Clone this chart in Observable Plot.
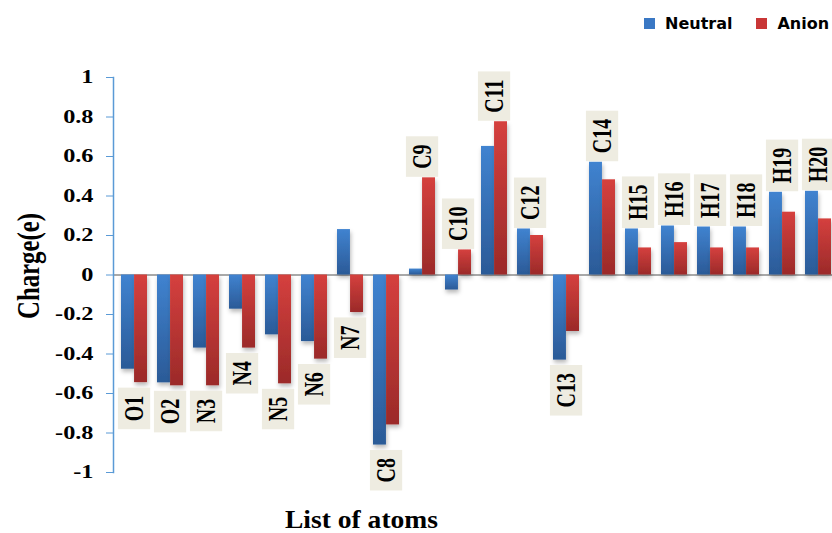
<!DOCTYPE html>
<html>
<head>
<meta charset="utf-8">
<script src="https://cdn.jsdelivr.net/npm/d3@7"></script>
<script src="https://cdn.jsdelivr.net/npm/@observablehq/plot@0.6"></script>
<style>
  body { margin: 0; background: #fff; }
  #wrap { position: relative; width: 832px; height: 533px; overflow: hidden; }
  #legend { position: absolute; top: 14px; left: 644px; display: flex; align-items: center;
            font: bold 16px "DejaVu Sans", sans-serif; color: #000; white-space: nowrap; }
  #legend .item { display: flex; align-items: center; margin-right: 24px; }
  #legend .swatch { width: 11px; height: 11px; margin-right: 10px; }
</style>
</head>
<body>
<div id="wrap">
  <div id="chart"></div>
  <div id="legend"></div>
</div>
<script>
// Atomic charges (e) of each atom, neutral molecule vs. anion
const atoms = ["O1", "O2", "N3", "N4", "N5", "N6", "N7", "C8", "C9", "C10",
               "C11", "C12", "C13", "C14", "H15", "H16", "H17", "H18", "H19", "H20"];
const neutral = [-0.477, -0.546, -0.370, -0.173, -0.303, -0.337, 0.230, -0.861, 0.030, -0.076,
                 0.651, 0.233, -0.431, 0.571, 0.233, 0.248, 0.243, 0.243, 0.419, 0.424];
const anion = [-0.545, -0.561, -0.561, -0.370, -0.551, -0.426, -0.190, -0.759, 0.492, 0.127,
               0.776, 0.200, -0.286, 0.482, 0.137, 0.164, 0.137, 0.137, 0.318, 0.284];
const seriesNames = ["Neutral", "Anion"];
const seriesColors = ["#3a78c4", "#c93636"];
const yTicks = [-1, -0.8, -0.6, -0.4, -0.2, 0, 0.2, 0.4, 0.6, 0.8, 1];
const yTitle = "Charge(e)";
const xTitle = "List of atoms";

const neutralRows = atoms.map((atom, i) => ({atom, value: neutral[i]}));
const anionRows = atoms.map((atom, i) => ({atom, value: anion[i]}));

// Each atom name sits beyond the outer end of its pair of bars
const labelRows = atoms.map((atom, i) => {
  const up = anion[i] >= 0;
  return {atom, up, value: up ? Math.max(neutral[i], anion[i]) : Math.min(neutral[i], anion[i])};
});

const svgNS = "http://www.w3.org/2000/svg";
function defs() {
  const d = document.createElementNS(svgNS, "defs");
  d.innerHTML = `
    <linearGradient id="gradNeutral" x1="0" y1="0" x2="0" y2="1">
      <stop offset="0" stop-color="#4083d0"/><stop offset="1" stop-color="#2b5a97"/>
    </linearGradient>
    <linearGradient id="gradAnion" x1="0" y1="0" x2="0" y2="1">
      <stop offset="0" stop-color="#d5403e"/><stop offset="1" stop-color="#9b2a29"/>
    </linearGradient>
    <filter id="barShadow" x="-30%" y="-20%" width="160%" height="150%">
      <feDropShadow dx="1" dy="3" stdDeviation="2" flood-color="#000" flood-opacity="0.28"/>
    </filter>`;
  return d;
}

const serif = "Liberation Serif, Times New Roman, serif";
const labelFont = {fontFamily: serif, fontWeight: "bold", fontSize: 20, fill: "#000"};

const chart = Plot.plot({
  width: 832,
  height: 533,
  marginTop: 77,
  marginBottom: 61,
  marginLeft: 113,
  marginRight: 0,
  style: {fontFamily: serif, fontWeight: "bold", fontSize: "18px", color: "#000", background: "#fff"},
  x: {type: "band", domain: atoms, range: [113, 838], paddingInner: 0.28, paddingOuter: 0.14, axis: null},
  y: {domain: [-1, 1], axis: null},
  marks: [
    defs,
    Plot.ruleY([0], {stroke: "#8c8c8c", strokeWidth: 1.5}),
    Plot.barY(neutralRows, {x: "atom", y: "value", fill: "url(#gradNeutral)", insetRight: 13.05, ariaDescription: "bars"}),
    Plot.barY(anionRows, {x: "atom", y: "value", fill: "url(#gradAnion)", insetLeft: 13.05, ariaDescription: "bars"}),
    Plot.frame({anchor: "left", stroke: "#5a9ad6", strokeWidth: 1.5}),
    Plot.axisY(yTicks, {
      anchor: "left", tickSize: 7, tickPadding: 13, stroke: "#5a9ad6", fill: "#000",
      fontFamily: serif, fontWeight: "bold", fontSize: 18,
      tickFormat: d => `${+d.toFixed(1)}`, label: null, ariaDescription: "ytick"
    }),
    Plot.text(labelRows.filter(d => d.up), {
      x: "atom", y: "value", text: "atom", rotate: -90, textAnchor: "start", lineAnchor: "middle",
      dy: -9, ...labelFont, ariaDescription: "atom-labels"
    }),
    Plot.text(labelRows.filter(d => !d.up), {
      x: "atom", y: "value", text: "atom", rotate: -90, textAnchor: "end", lineAnchor: "middle",
      dy: 13, ...labelFont, ariaDescription: "atom-labels"
    }),
    Plot.text([yTitle], {
      frameAnchor: "left", text: d => d, rotate: -90, textAnchor: "middle", lineAnchor: "middle",
      dx: -85, dy: -9, fontFamily: serif, fontWeight: "bold", fontSize: 25, fill: "#000",
      ariaDescription: "y-title"
    }),
    Plot.text([xTitle], {
      frameAnchor: "bottom-left", text: d => d, textAnchor: "middle", lineAnchor: "bottom",
      dx: 248, dy: 55, fontFamily: serif, fontWeight: "bold", fontSize: 26, fill: "#000",
      ariaDescription: "x-title"
    })
  ]
});

document.getElementById("chart").appendChild(chart);
const svg = d3.select(chart);

// Soft drop shadow under the bars
svg.selectAll('g[aria-description="bars"]').attr("filter", "url(#barShadow)");

// Wide, heavy lettering: stretch glyphs across the page
function stretch(sel, extra) {
  sel.each(function () {
    const t = this.getAttribute("transform");
    if (t) this.setAttribute("transform", t + " " + extra);
  });
}
stretch(svg.selectAll('g[aria-description="ytick"] text'), "scale(1.35,1)");
stretch(svg.selectAll('g[aria-description="y-title"] text'), "scale(1,1.3)");
stretch(svg.selectAll('g[aria-description="atom-labels"] text'), "scale(1,1.35)");

// Fixed run lengths for the two axis titles
svg.selectAll('g[aria-description="y-title"] text')
  .attr("textLength", 106).attr("lengthAdjust", "spacingAndGlyphs");
svg.selectAll('g[aria-description="x-title"] text')
  .attr("textLength", 153).attr("lengthAdjust", "spacingAndGlyphs");

// Beige tag behind each atom name
svg.selectAll('g[aria-description="atom-labels"] text').each(function () {
  const bb = this.getBBox();
  const r = document.createElementNS(svgNS, "rect");
  r.setAttribute("x", bb.x - 8);
  r.setAttribute("y", bb.y - 1);
  r.setAttribute("width", bb.width + 16);
  r.setAttribute("height", bb.height + 2);
  r.setAttribute("fill", "#eeece1");
  r.setAttribute("transform", this.getAttribute("transform"));
  this.parentNode.insertBefore(r, this);
});

// Legend
const legend = d3.select("#legend");
seriesNames.forEach((name, i) => {
  const item = legend.append("div").attr("class", "item");
  item.append("div").attr("class", "swatch").style("background", seriesColors[i]);
  item.append("span").text(name);
});
</script>
</body>
</html>
